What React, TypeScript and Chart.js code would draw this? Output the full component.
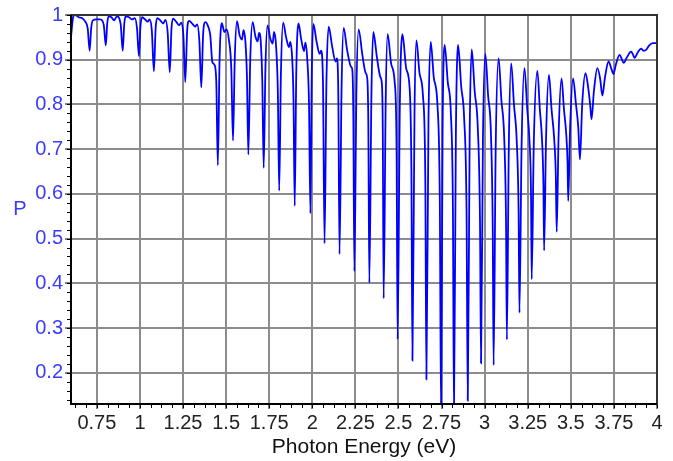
import React, { useEffect, useRef } from "react";
import { Chart, registerables } from "chart.js";

Chart.register(...registerables);

// Photon energy (eV) and polarization P
const energy = [
  0.6, 0.606, 0.614, 0.625, 0.645, 0.665, 0.683, 0.697, 0.708, 0.717,
  0.727, 0.748, 0.77, 0.79, 0.802, 0.81, 0.818, 0.835, 0.85, 0.866,
  0.888, 0.9, 0.909, 0.917, 0.937, 0.955, 0.97, 0.983, 0.994, 1.003,
  1.013, 1.03, 1.045, 1.055, 1.069, 1.081, 1.091, 1.1, 1.118, 1.135,
  1.148, 1.161, 1.173, 1.183, 1.192, 1.21, 1.228, 1.24, 1.252, 1.263,
  1.274, 1.285, 1.305, 1.32, 1.332, 1.345, 1.356, 1.367, 1.38, 1.395,
  1.408, 1.42, 1.433, 1.443, 1.452, 1.462, 1.475, 1.49, 1.503, 1.516,
  1.53, 1.54, 1.55, 1.563, 1.578, 1.592, 1.601, 1.612, 1.621, 1.629,
  1.64, 1.654, 1.67, 1.683, 1.691, 1.701, 1.71, 1.718, 1.728, 1.74,
  1.756, 1.77, 1.778, 1.79, 1.8, 1.808, 1.818, 1.831, 1.848, 1.865,
  1.872, 1.883, 1.891, 1.898, 1.907, 1.92, 1.936, 1.952, 1.96, 1.971,
  1.981, 1.989, 1.997, 2.006, 2.025, 2.043, 2.051, 2.062, 2.071, 2.082,
  2.095, 2.115, 2.135, 2.143, 2.151, 2.158, 2.17, 2.182, 2.202, 2.225,
  2.232, 2.238, 2.244, 2.256, 2.269, 2.29, 2.31, 2.319, 2.325, 2.331,
  2.343, 2.354, 2.375, 2.395, 2.404, 2.409, 2.414, 2.426, 2.437, 2.458,
  2.478, 2.489, 2.495, 2.508, 2.523, 2.545, 2.565, 2.575, 2.581, 2.593,
  2.604, 2.622, 2.642, 2.656, 2.662, 2.674, 2.687, 2.705, 2.726, 2.74,
  2.747, 2.756, 2.768, 2.786, 2.804, 2.816, 2.822, 2.833, 2.846, 2.864,
  2.881, 2.895, 2.902, 2.913, 2.925, 2.942, 2.96, 2.973, 2.979, 2.99,
  3.004, 3.02, 3.036, 3.047, 3.052, 3.064, 3.081, 3.097, 3.113, 3.124,
  3.129, 3.14, 3.154, 3.17, 3.186, 3.197, 3.202, 3.214, 3.231, 3.247,
  3.26, 3.269, 3.273, 3.285, 3.306, 3.32, 3.333, 3.341, 3.345, 3.356,
  3.373, 3.388, 3.404, 3.413, 3.418, 3.429, 3.446, 3.46, 3.474, 3.481,
  3.485, 3.496, 3.513, 3.53, 3.543, 3.553, 3.566, 3.585, 3.6, 3.612,
  3.62, 3.634, 3.654, 3.67, 3.683, 3.698, 3.719, 3.735, 3.747, 3.762,
  3.783, 3.795, 3.806, 3.825, 3.85, 3.86, 3.87, 3.888, 3.908, 3.922,
  3.937, 3.955, 3.975, 3.99, 4.0,
];

const polarization = [
  0.95, 0.975, 0.998, 1.0, 0.995, 0.993, 0.985, 0.97, 0.92, 0.97,
  0.988, 0.99, 0.99, 0.978, 0.932, 0.98, 0.997, 0.995, 0.988, 0.997,
  0.98, 0.92, 0.98, 0.997, 0.995, 0.99, 0.993, 0.97, 0.908, 0.975,
  0.995, 0.99, 0.985, 0.99, 0.965, 0.874, 0.97, 0.993, 0.988, 0.981,
  0.989, 0.96, 0.872, 0.97, 0.992, 0.985, 0.977, 0.983, 0.955, 0.85,
  0.965, 0.987, 0.98, 0.974, 0.979, 0.94, 0.838, 0.96, 0.984, 0.975,
  0.955, 0.895, 0.888, 0.85, 0.664, 0.9, 0.982, 0.962, 0.968, 0.945,
  0.88, 0.719, 0.9, 0.986, 0.955, 0.945, 0.966, 0.94, 0.86, 0.688,
  0.9, 0.984, 0.952, 0.941, 0.96, 0.94, 0.85, 0.658, 0.88, 0.977,
  0.948, 0.936, 0.962, 0.93, 0.83, 0.607, 0.87, 0.983, 0.95, 0.928,
  0.94, 0.905, 0.81, 0.573, 0.87, 0.981, 0.945, 0.919, 0.938, 0.9,
  0.8, 0.556, 0.87, 0.98, 0.94, 0.913, 0.92, 0.85, 0.489, 0.85,
  0.974, 0.93, 0.896, 0.903, 0.82, 0.465, 0.84, 0.971, 0.922, 0.884,
  0.878, 0.78, 0.427, 0.83, 0.968, 0.912, 0.87, 0.858, 0.76, 0.401,
  0.82, 0.962, 0.905, 0.861, 0.845, 0.74, 0.366, 0.81, 0.957, 0.89,
  0.85, 0.7, 0.275, 0.8, 0.957, 0.88, 0.835, 0.65, 0.227, 0.78,
  0.943, 0.87, 0.82, 0.62, 0.185, 0.76, 0.94, 0.86, 0.8, 0.58,
  0.11, 0.74, 0.933, 0.85, 0.78, 0.56, 0.11, 0.73, 0.933, 0.84,
  0.77, 0.56, 0.137, 0.73, 0.923, 0.83, 0.75, 0.54, 0.221, 0.72,
  0.913, 0.82, 0.74, 0.52, 0.217, 0.7, 0.903, 0.81, 0.73, 0.54,
  0.274, 0.7, 0.892, 0.8, 0.72, 0.56, 0.334, 0.7, 0.881, 0.79,
  0.72, 0.6, 0.409, 0.71, 0.875, 0.79, 0.72, 0.62, 0.473, 0.72,
  0.866, 0.79, 0.72, 0.64, 0.515, 0.73, 0.858, 0.79, 0.73, 0.67,
  0.584, 0.75, 0.858, 0.8, 0.75, 0.677, 0.8, 0.87, 0.84, 0.8,
  0.767, 0.83, 0.881, 0.858, 0.82, 0.86, 0.896, 0.88, 0.868, 0.89,
  0.911, 0.902, 0.893, 0.905, 0.918, 0.912, 0.904, 0.916, 0.925, 0.92,
  0.922, 0.932, 0.937, 0.937, 0.937,
];

const xTickValues = [0.75, 1, 1.25, 1.5, 1.75, 2, 2.25, 2.5, 2.75, 3, 3.25, 3.5, 3.75, 4];
const xTickLabels = ["0.75", "1", "1.25", "1.5", "1.75", "2", "2.25", "2.5", "2.75", "3", "3.25", "3.5", "3.75", "4"];
const yTickValues = [0.2, 0.3, 0.4, 0.5, 0.6, 0.7, 0.8, 0.9, 1];
const yTickLabels = ["0.2", "0.3", "0.4", "0.5", "0.6", "0.7", "0.8", "0.9", "1"];

const X_MIN = 0.6;
const X_MAX = 4;
const Y_MIN = 0.13;
const Y_MAX = 1;
const X_MINOR_STEP = 0.0625;
const Y_MINOR_STEP = 0.02;

const FONT = "'Liberation Sans', Arial, sans-serif";
const BLUE_TEXT = "#3a3aff";

const decorPlugin = {
  id: "decor",
  afterDraw(chart: any) {
    const { ctx, chartArea, scales } = chart;
    const { left, right, top, bottom } = chartArea;
    const xs = scales.x;
    const ys = scales.y;
    ctx.save();
    // minor ticks
    ctx.strokeStyle = "#000";
    ctx.lineWidth = 1;
    ctx.beginPath();
    const x0 = Math.ceil(X_MIN / X_MINOR_STEP) * X_MINOR_STEP;
    for (let v = x0; v <= X_MAX + 1e-9; v += X_MINOR_STEP) {
      const px = Math.round(xs.getPixelForValue(v)) + 0.5;
      ctx.moveTo(px, bottom);
      ctx.lineTo(px, bottom + 4);
    }
    const y0 = Math.ceil(Y_MIN / Y_MINOR_STEP) * Y_MINOR_STEP;
    for (let v = y0; v <= Y_MAX + 1e-9; v += Y_MINOR_STEP) {
      const py = Math.round(ys.getPixelForValue(v)) + 0.5;
      ctx.moveTo(left - 4, py);
      ctx.lineTo(left, py);
    }
    ctx.stroke();
    // frame
    ctx.strokeStyle = "#333";
    ctx.lineWidth = 2;
    ctx.strokeRect(left, top, right - left, bottom - top);
    ctx.strokeStyle = "#000";
    ctx.beginPath();
    ctx.moveTo(left, top);
    ctx.lineTo(left, bottom);
    ctx.lineTo(right, bottom);
    ctx.stroke();
    // y-axis title, upright
    ctx.fillStyle = BLUE_TEXT;
    ctx.font = `20px ${FONT}`;
    ctx.textAlign = "center";
    ctx.textBaseline = "middle";
    ctx.fillText("P", left - 51, (top + bottom) / 2);
    ctx.restore();
  },
};

export default function App() {
  const canvasRef = useRef<HTMLCanvasElement | null>(null);

  useEffect(() => {
    const canvas = canvasRef.current;
    if (!canvas) return;
    const points = energy.map((e, i) => ({ x: e, y: polarization[i] }));
    const chart = new Chart(canvas, {
      type: "line",
      data: {
        datasets: [
          {
            data: points,
            borderColor: "#0000ff",
            borderWidth: 1.8,
            pointRadius: 0,
            fill: false,
            cubicInterpolationMode: "monotone",
          },
        ],
      },
      options: {
        animation: false,
        responsive: true,
        maintainAspectRatio: false,
        devicePixelRatio: 1,
        layout: { padding: { top: 15, right: 16, left: 0, bottom: 0 } },
        plugins: {
          legend: { display: false },
          tooltip: { enabled: false },
        },
        scales: {
          x: {
            type: "linear",
            min: X_MIN,
            max: X_MAX,
            afterBuildTicks: (scale: any) => {
              scale.ticks = xTickValues.map((v) => ({ value: v }));
            },
            afterFit: (scale: any) => {
              scale.height = 57;
            },
            ticks: {
              autoSkip: false,
              maxRotation: 0,
              padding: 2,
              color: "#222",
              font: { family: FONT, size: 20 },
              callback: (v: any) => {
                const i = xTickValues.indexOf(Number(v));
                return i >= 0 ? xTickLabels[i] : "";
              },
            },
            grid: {
              color: "#8c8c8c",
              lineWidth: 2,
              tickColor: "#000",
              tickLength: 5,
              tickWidth: 1,
            },
            border: { display: false },
            title: {
              display: true,
              text: "Photon Energy (eV)",
              color: "#111",
              font: { family: FONT, size: 21 },
              padding: { top: 0, bottom: 1 },
            },
          },
          y: {
            type: "linear",
            min: Y_MIN,
            max: Y_MAX,
            afterBuildTicks: (scale: any) => {
              scale.ticks = yTickValues.map((v) => ({ value: v }));
            },
            afterFit: (scale: any) => {
              scale.width = 71;
            },
            ticks: {
              padding: 2,
              color: BLUE_TEXT,
              font: { family: FONT, size: 20 },
              callback: (v: any) => {
                const i = yTickValues.indexOf(Number(v));
                return i >= 0 ? yTickLabels[i] : "";
              },
            },
            grid: {
              color: "#8c8c8c",
              lineWidth: 2,
              tickColor: "#000",
              tickLength: 6,
              tickWidth: 1,
            },
            border: { display: false },
          },
        },
      },
      plugins: [decorPlugin],
    });
    return () => chart.destroy();
  }, []);

  return (
    <div style={{ position: "absolute", left: 0, top: 0, width: 673, height: 461, background: "#fff" }}>
      <canvas ref={canvasRef} />
    </div>
  );
}
